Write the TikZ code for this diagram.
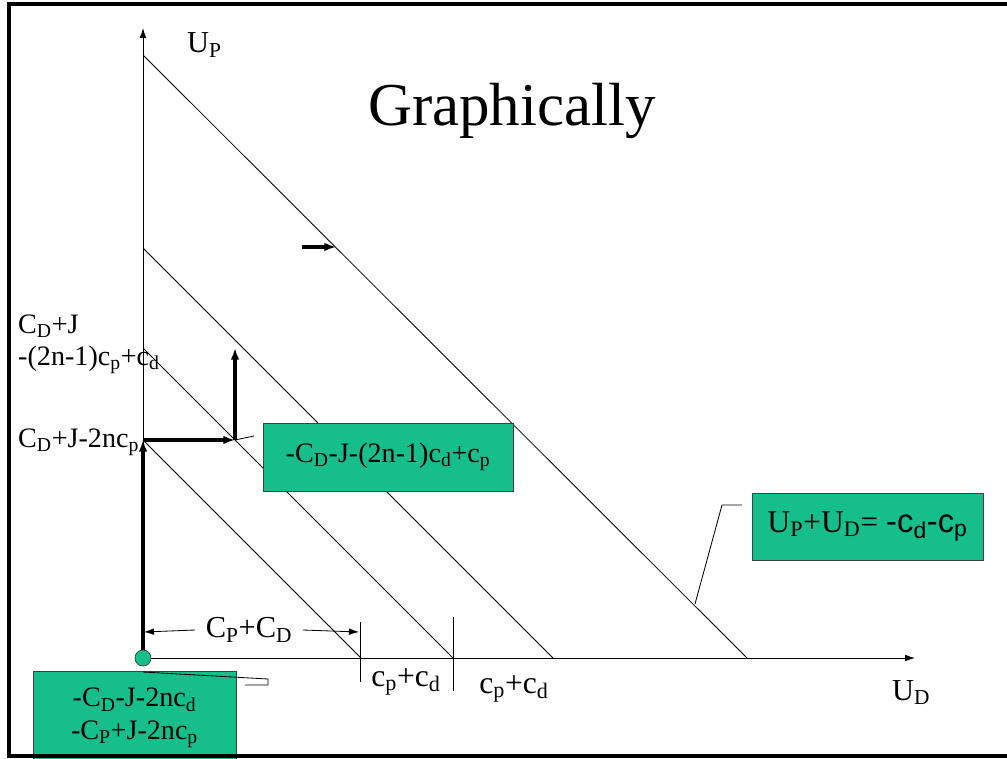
\documentclass[tikz,border=0pt]{standalone}
\usepackage{fontspec}
\setmainfont{Liberation Serif}
\newfontfamily\arialfont{Liberation Sans}
\usetikzlibrary{arrows.meta,positioning}
\definecolor{boxgreen}{RGB}{22,190,140}
\newcommand{\lo}[1]{\textsubscript{#1}}

\begin{document}
\begin{tikzpicture}[x=0.03cm, y=-0.03cm,
  font=\fontsize{24}{28}\selectfont,
  greenbox/.style={draw=black!75, fill=boxgreen, align=center, inner sep=0pt, line width=0.6pt},
  ax/.style={-{Latex[length=3mm,width=2mm]}, line width=0.7pt},
  thk/.style={-{Latex[length=3.5mm,width=2.6mm]}, line width=2.6pt},
  ln/.style={line width=0.7pt}]
\useasboundingbox (0,0) rectangle (1007,759);
% axes and the lines of equal sum
\coordinate (O) at (143,658);
\coordinate (ytip) at (143,28);
\coordinate (xtip) at (915,658);
\coordinate (a1) at (143,55);  \coordinate (b1) at (747,658);
\coordinate (a2) at (143,248); \coordinate (b2) at (553,658);
\coordinate (a3) at (143,348); \coordinate (b3) at (453,658);
\coordinate (a4) at (143,440); \coordinate (b4) at (361,658);
\draw[ax] (O) -- (ytip);
\draw[ax] (O) -- (xtip);
\draw[ln] (a1) -- (b1);
\draw[ln] (a2) -- (b2);
\draw[ln] (a3) -- (b3);
\draw[ln] (a4) -- (b4);
\node[anchor=base west, font=\fontsize{26}{30}\selectfont] (up) at (183,53) {U\lo{P}};
\node[anchor=base west, font=\fontsize{26}{30}\selectfont] (ud) at (888,700) {U\lo{D}};
\node[anchor=base west, font=\fontsize{52}{60}\selectfont] (title) at (364,126) {Graphically};
% labels on the vertical axis
\node[anchor=base west, inner sep=0pt] (l1) at (18,333) {C\lo{D}+J};
\node[anchor=base west, inner sep=0pt] (l2) at (18,365) {-(2n-1)c\lo{p}+c\lo{d}};
\node[anchor=base west, inner sep=0pt] (l3) at (18,447) {C\lo{D}+J-2nc\lo{p}};
% moves
\coordinate (k1) at (235,440);
\coordinate (k2) at (235,348);
\draw[thk] (O) -- (a4);
\draw[thk] (a4) -- (k1);
\draw[thk] (k1) -- (k2);
\coordinate (s1) at (302,247);
\coordinate (s2) at (336,247);
\draw[thk] (s1) -- (s2);
% boxes
\node[greenbox, minimum width=7.5cm, minimum height=2.04cm] (bx1) at (388,457)
  {-C\lo{D}-J-(2n-1)c\lo{d}+c\lo{p}};
\coordinate (c1) at (254,436);
\draw[ln] (c1) -- (k1);
\node[greenbox, minimum width=6.93cm, minimum height=2.01cm] (bx2) at (867.5,526.5)
  {\fontsize{27}{30}\selectfont U\lo{P}+U\lo{D}= {\arialfont\fontsize{28}{30}\selectfont -c\lo{d}-c\lo{p}}};
\coordinate (c2a) at (742,505);
\coordinate (c2b) at (722,505);
\coordinate (c2c) at (695,604);
\draw[ln] (c2a) -- (c2b) -- (c2c);
\node[greenbox, minimum width=6.09cm, minimum height=2.79cm] (bx3) at (134.5,718)
  {-C\lo{D}-J-2nc\lo{d}\\-C\lo{P}+J-2nc\lo{p}};
\coordinate (c3a) at (143,672);
\coordinate (c3b) at (268,679);
\coordinate (c3c) at (268,685);
\coordinate (c3d) at (245,685);
\draw[ln] (c3a) -- (c3b) -- (c3c) -- (c3d);
\node[circle, draw=black!75, fill=boxgreen, minimum size=0.48cm, inner sep=0pt, line width=0.6pt] (dot) at (O) {};
% distances along the horizontal axis
\coordinate (t1a) at (360,622); \coordinate (t1b) at (360,682);
\coordinate (t2a) at (453,617); \coordinate (t2b) at (453,691);
\draw[ln] (t1a) -- (t1b);
\draw[ln] (t2a) -- (t2b);
\node[font=\fontsize{26}{30}\selectfont, inner xsep=9pt] (cpcd) at (249,630) {C\lo{P}+C\lo{D}};
\coordinate (d1) at (144,632);
\coordinate (d2) at (359,632);
\draw[ax] (cpcd.west) -- (d1);
\draw[ax] (cpcd.east) -- (d2);
\node[font=\fontsize{27}{30}\selectfont] (g1) at (406,682) {c\lo{p}+c\lo{d}};
\node[font=\fontsize{27}{30}\selectfont] (g2) at (514,689) {c\lo{p}+c\lo{d}};
% frame
\draw[line width=3pt] (1012,4) -- (9,4) -- (9,756) -- (1012,756);
\end{tikzpicture}
\end{document}
